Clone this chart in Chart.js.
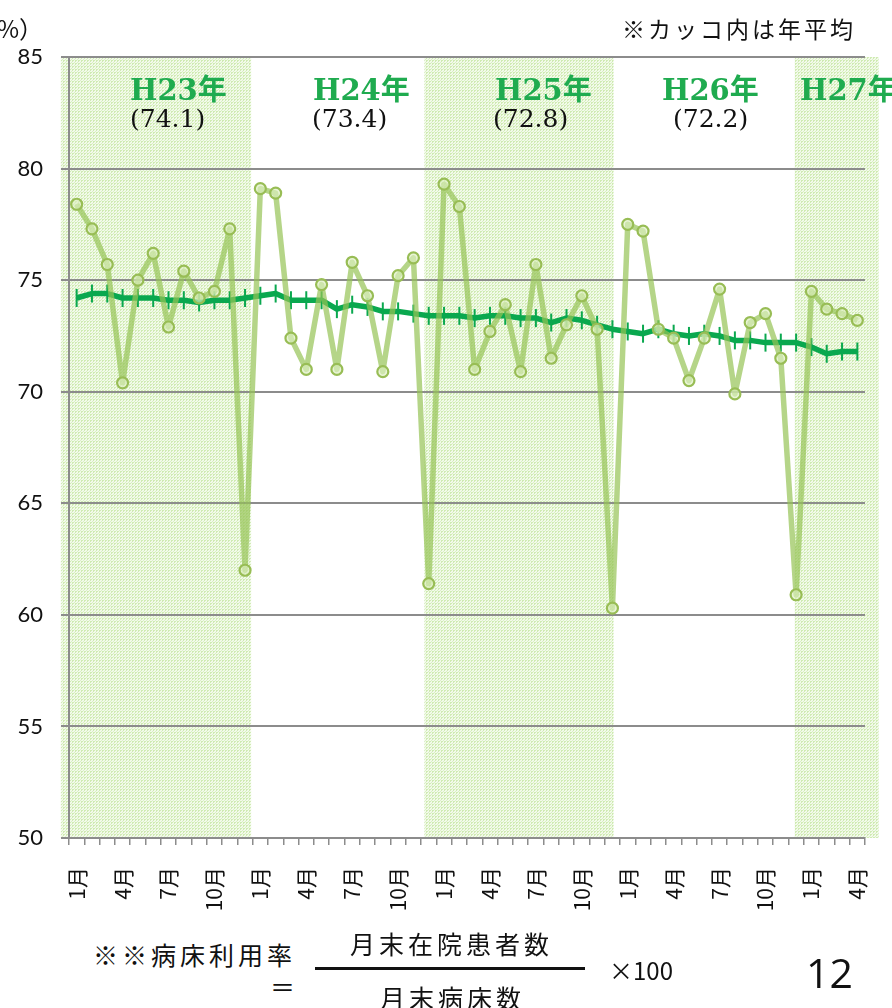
<!DOCTYPE html>
<html lang="ja">
<head>
<meta charset="utf-8">
<script src="https://cdn.jsdelivr.net/npm/chart.js@4.4.1/dist/chart.umd.min.js"></script>
<style>
  html, body { margin: 0; padding: 0; background: #fff; }
  body { width: 892px; height: 1008px; position: relative; overflow: hidden; font-family: "Noto Sans CJK JP", sans-serif; color: #111; }
  #chart-wrap { position: absolute; left: 0; top: 0; width: 892px; height: 930px; }
  .txt { position: absolute; white-space: nowrap; }
  .year { font-family: "DejaVu Serif", "Noto Sans CJK JP", serif; font-weight: bold; font-size: 29px; color: #1fab4f; line-height: 1; }
  .avg { font-family: "DejaVu Serif", serif; font-size: 25px; color: #111; line-height: 1; }
  .jp { font-family: "Noto Sans CJK JP", sans-serif; line-height: 1; }
</style>
</head>
<body>
<div id="chart-wrap"><canvas id="rate-chart"></canvas></div>

<!-- axis unit / note -->
<div class="txt jp" style="left:-27px; top:16px; font-size:24px;">（%）</div>
<div class="txt jp" style="left:622px; top:17px; font-size:23px; letter-spacing:3px;">※カッコ内は年平均</div>

<!-- year labels and yearly averages -->
<div class="txt year" style="left:130px; top:76px;">H23年</div>
<div class="txt avg" style="left:130px; top:106px;">(74.1)</div>
<div class="txt year" style="left:313px; top:76px;">H24年</div>
<div class="txt avg" style="left:312px; top:106px;">(73.4)</div>
<div class="txt year" style="left:495px; top:76px;">H25年</div>
<div class="txt avg" style="left:493px; top:106px;">(72.8)</div>
<div class="txt year" style="left:662px; top:76px;">H26年</div>
<div class="txt avg" style="left:673px; top:106px;">(72.2)</div>
<div class="txt year" style="left:800px; top:76px;">H27年</div>

<!-- formula -->
<div class="txt jp" style="left:93px; top:942px; font-size:25px; letter-spacing:4px;">※※病床利用率</div>
<div class="txt jp" style="left:270px; top:974px; font-size:25px;">＝</div>
<div class="txt jp" style="left:350px; top:931px; font-size:25px; letter-spacing:4px;">月末在院患者数</div>
<div style="position:absolute; left:315px; top:967px; width:270px; height:3px; background:#111;"></div>
<div class="txt jp" style="left:380px; top:985px; font-size:25px; letter-spacing:4px;">月末病床数</div>
<div class="txt jp" style="left:609px; top:958px; font-size:24px;">×100</div>
<div class="txt" style="left:806px; top:952px; font-size:41px; font-family:'Open Sans', sans-serif; line-height:1;">12</div>

<script>
// --- Data ---
const monthNames = ['1月', '2月', '3月', '4月', '5月', '6月', '7月', '8月', '9月', '10月', '11月', '12月'];
// H23.1 - H27.4 (52 months)
const xLabels = [];
for (let y = 0; y < 4; y++) xLabels.push(...monthNames);
xLabels.push(...monthNames.slice(0, 4));

// monthly bed occupancy rate (%)
const occupancy = [
  78.4, 77.3, 75.7, 70.4, 75.0, 76.2, 72.9, 75.4, 74.2, 74.5, 77.3, 62.0,
  79.1, 78.9, 72.4, 71.0, 74.8, 71.0, 75.8, 74.3, 70.9, 75.2, 76.0, 61.4,
  79.3, 78.3, 71.0, 72.7, 73.9, 70.9, 75.7, 71.5, 73.0, 74.3, 72.8, 60.3,
  77.5, 77.2, 72.8, 72.4, 70.5, 72.4, 74.6, 69.9, 73.1, 73.5, 71.5, 60.9,
  74.5, 73.7, 73.5, 73.2
];

// 12-month moving average (%)
const movingAvg = [
  74.2, 74.4, 74.4, 74.2, 74.2, 74.2, 74.1, 74.1, 74.0, 74.1, 74.1, 74.2,
  74.3, 74.4, 74.1, 74.1, 74.1, 73.7, 73.9, 73.8, 73.6, 73.6, 73.5, 73.4,
  73.4, 73.4, 73.3, 73.4, 73.4, 73.3, 73.3, 73.1, 73.3, 73.2, 73.0, 72.8,
  72.7, 72.6, 72.8, 72.6, 72.5, 72.6, 72.5, 72.3, 72.3, 72.2, 72.2, 72.2,
  72.0, 71.7, 71.8, 71.8
];

// shaded year bands, in category units [from, to]
const shadedBands = [[-1.03, 11.4], [22.71, 35.08], [46.91, 52.41]];

const yTicks = { min: 50, max: 85, step: 5 };

// --- Shading plugin ---
function makeDotPattern(ctx) {
  const tile = document.createElement('canvas');
  tile.width = 3;
  tile.height = 3;
  const g = tile.getContext('2d');
  g.fillStyle = '#f2faea';
  g.fillRect(0, 0, 3, 3);
  g.fillStyle = '#d0ebb3';
  g.fillRect(0, 0, 2, 1);
  g.fillRect(0, 0, 1, 2);
  g.fillStyle = '#dcf0c6';
  g.fillRect(2, 2, 1, 1);
  return ctx.createPattern(tile, 'repeat');
}

const bandPlugin = {
  id: 'yearBands',
  beforeDraw(chart) {
    const { ctx, chartArea, scales } = chart;
    const fill = makeDotPattern(ctx);
    ctx.save();
    ctx.fillStyle = fill;
    shadedBands.forEach(([from, to]) => {
      const x0 = scales.x.getPixelForValue(from);
      const x1 = scales.x.getPixelForValue(to);
      ctx.fillRect(x0, chartArea.top, x1 - x0, chartArea.bottom - chartArea.top);
    });
    ctx.restore();
  }
};

const gridGray = '#8c8c8c';

new Chart(document.getElementById('rate-chart').getContext('2d'), {
  type: 'line',
  data: {
    labels: xLabels,
    datasets: [
      {
        label: '病床利用率',
        data: occupancy,
        order: 1,
        borderColor: 'rgba(150, 195, 85, 0.7)',
        borderWidth: 5.5,
        borderJoinStyle: 'round',
        tension: 0,
        pointRadius: 5.5,
        pointBorderWidth: 2.2,
        pointBorderColor: '#98bd55',
        pointBackgroundColor: 'rgba(220, 238, 190, 0.65)'
      },
      {
        label: '12か月移動平均',
        data: movingAvg,
        order: 2,
        borderColor: '#0aa84f',
        borderWidth: 5.5,
        borderJoinStyle: 'round',
        tension: 0,
        pointStyle: 'line',
        rotation: 90,
        pointRadius: 9,
        pointBorderWidth: 2,
        pointBorderColor: '#0aa84f'
      }
    ]
  },
  options: {
    responsive: true,
    maintainAspectRatio: false,
    animation: false,
    events: [],
    layout: { padding: { top: 57, right: 27, left: 0, bottom: 0 } },
    plugins: {
      legend: { display: false },
      tooltip: { enabled: false }
    },
    scales: {
      x: {
        offset: true,
        afterFit: (scale) => {
          scale.height = 92;
          // rotated labels fit inside the plot width, no side padding needed
          scale.paddingLeft = 0;
          scale.paddingRight = 0;
        },
        grid: {
          offset: true,
          drawOnChartArea: false,
          drawTicks: true,
          tickLength: 7,
          color: gridGray,
          lineWidth: 1.5
        },
        border: { display: true, color: gridGray, width: 2 },
        ticks: {
          autoSkip: false,
          maxRotation: 90,
          minRotation: 90,
          padding: 22,
          color: '#111',
          font: { family: '"Noto Sans CJK JP", sans-serif', size: 21 },
          callback: (value, index) => (index % 3 === 0 ? xLabels[index] : '')
        }
      },
      y: {
        min: yTicks.min,
        max: yTicks.max,
        afterFit: (scale) => { scale.width = 69; },
        grid: {
          color: gridGray,
          lineWidth: 2,
          drawTicks: true,
          tickLength: 8
        },
        border: { display: true, color: gridGray, width: 2 },
        ticks: {
          stepSize: yTicks.step,
          padding: 18,
          color: '#111',
          font: { family: 'Lato, "Open Sans", sans-serif', size: 22 }
        }
      }
    }
  },
  plugins: [bandPlugin]
});
</script>
</body>
</html>
